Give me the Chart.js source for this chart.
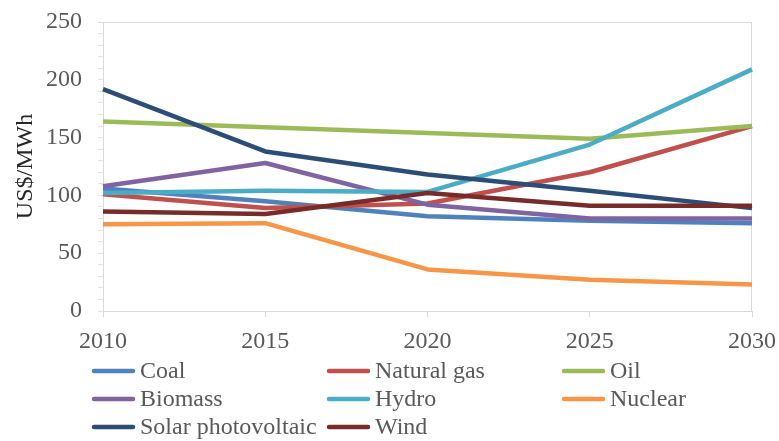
<!DOCTYPE html>
<html>
<head>
<meta charset="utf-8">
<script src="https://cdn.jsdelivr.net/npm/chart.js@4"></script>
<style>
  html, body { margin: 0; padding: 0; background: #fff; }
  #chart { display: block; }
</style>
</head>
<body>
<canvas id="chart" width="779" height="441"></canvas>
<script>
// --- data ---
const years = ['2010', '2015', '2020', '2025', '2030'];

const coal       = [106, 95, 82, 78, 76];
const naturalGas = [101, 89, 93, 120, 160];
const oil        = [164, 159, 154, 149, 160];
const biomass    = [108, 128, 92, 80, 80];
const hydro      = [102, 104, 103, 144, 209];
const nuclear    = [75, 76, 36, 27, 23];
const solarPV    = [192, 138, 118, 104, 89];
const wind       = [86, 84, 102, 91, 91];

const seriesNames  = ['Coal', 'Natural gas', 'Oil', 'Biomass', 'Hydro', 'Nuclear', 'Solar photovoltaic', 'Wind'];
const seriesValues = [coal, naturalGas, oil, biomass, hydro, nuclear, solarPV, wind];
const seriesColors = ['#4F81BD', '#C0504D', '#9BBB59', '#8064A2', '#4BACC6', '#F79646', '#2C4D75', '#772C2A'];

const FONT = '"Liberation Serif", "Times New Roman", serif';
const TEXT = '#595959';
const AXIS = '#d9d9d9';

// plot frame: top + right edges (left/bottom are the axes)
const frame = {
    id: 'frame',
    beforeDatasetsDraw(chart) {
        const { ctx, chartArea: a } = chart;
        ctx.save();
        ctx.strokeStyle = AXIS;
        ctx.lineWidth = 1;
        ctx.beginPath();
        ctx.moveTo(a.left, Math.round(a.top) + 0.5);
        ctx.lineTo(a.right, Math.round(a.top) + 0.5);
        ctx.moveTo(Math.round(a.right) - 0.5, a.top);
        ctx.lineTo(Math.round(a.right) - 0.5, a.bottom);
        ctx.stroke();
        ctx.restore();
    },
};

// legend laid out as a 3-column grid like the original
const gridLegend = {
    id: 'gridLegend',
    afterDraw(chart) {
        const { ctx } = chart;
        const colX = [92, 327, 562];
        const rowY = [371, 399, 427];
        ctx.save();
        ctx.font = '24px ' + FONT;
        ctx.textBaseline = 'middle';
        ctx.textAlign = 'left';
        chart.data.datasets.forEach((ds, i) => {
            const x = colX[i % 3];
            const y = rowY[Math.floor(i / 3)];
            ctx.strokeStyle = ds.borderColor;
            ctx.lineWidth = 4.5;
            ctx.lineCap = 'round';
            ctx.beginPath();
            ctx.moveTo(x + 2, y);
            ctx.lineTo(x + 41, y);
            ctx.stroke();
            ctx.fillStyle = TEXT;
            ctx.fillText(ds.label, x + 48, y + 1);
        });
        ctx.restore();
    },
};

new Chart(document.getElementById('chart'), {
    type: 'line',
    data: {
        labels: years,
        datasets: seriesNames.map((name, i) => ({
            label: name,
            data: seriesValues[i],
            borderColor: seriesColors[i],
            backgroundColor: seriesColors[i],
            borderWidth: 4.5,
            borderJoinStyle: 'round',
            pointRadius: 0,
            tension: 0,
            fill: false,
            order: seriesNames.length - i,
        })),
    },
    options: {
        responsive: false,
        animation: false,
        layout: { padding: { top: 22, right: 27, left: 0, bottom: 0 } },
        plugins: {
            legend: { display: false },
            tooltip: { enabled: false },
        },
        scales: {
            x: {
                type: 'category',
                offset: false,
                grid: { drawOnChartArea: false, color: AXIS, tickLength: 6, offset: false },
                border: { color: AXIS },
                ticks: {
                    color: TEXT,
                    font: { size: 24, family: FONT },
                    padding: 10,
                    maxRotation: 0,
                    autoSkip: false,
                },
                afterFit: (s) => {
                    s.height = 130;
                    s.paddingLeft = 0;
                    s.paddingRight = 0;
                },
            },
            y: {
                min: 0,
                max: 250,
                grid: { drawOnChartArea: false, color: '#e3e3d8', tickLength: 5 },
                border: { color: AXIS },
                ticks: {
                    stepSize: 10,
                    autoSkip: false,
                    color: TEXT,
                    font: { size: 24, family: FONT },
                    padding: 16,
                    callback: (v) => (v % 50 === 0 ? v : ''),
                },
                title: {
                    display: true,
                    text: 'US$/MWh',
                    color: '#262626',
                    font: { size: 24, family: FONT },
                    padding: { top: 11, bottom: 0 },
                },
                afterFit: (s) => {
                    s.width = 103;
                    s.paddingTop = 0;
                    s.paddingBottom = 0;
                },
            },
        },
    },
    plugins: [frame, gridLegend],
});
</script>
</body>
</html>
